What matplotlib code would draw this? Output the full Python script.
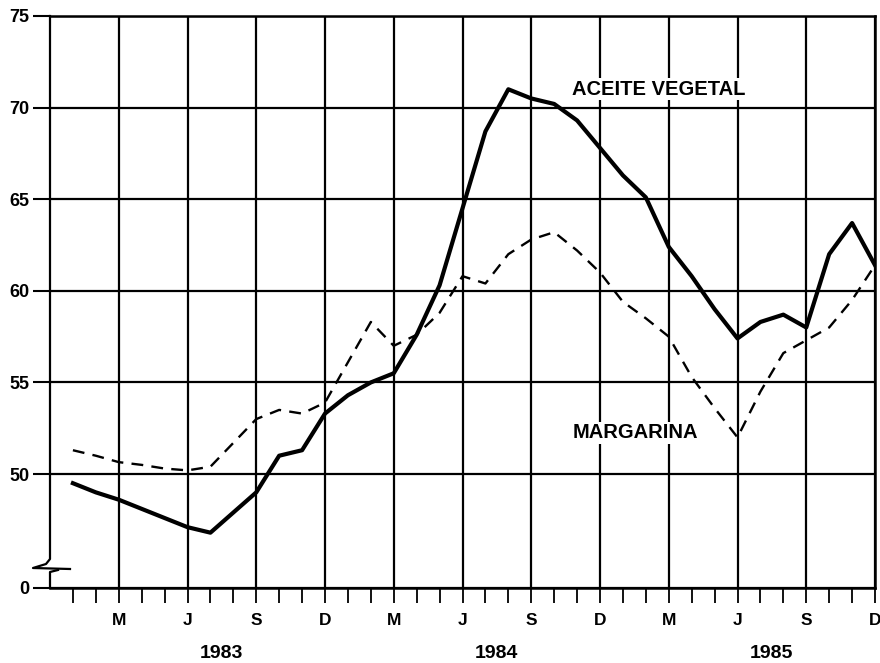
import matplotlib.pyplot as plt
import numpy as np

plt.rcParams['font.family'] = ['Liberation Sans', 'DejaVu Sans']
plt.rcParams['font.weight'] = 'bold'

# month index: 0 = Dec 1982 ... 36 = Dec 1985
months = np.arange(1, 37)

aceite_vegetal = [49.5, 49.0, 48.6, 48.1, 47.6, 47.1, 46.8, 47.9, 49.0, 51.0, 51.3, 53.3,
                  54.3, 55.0, 55.5, 57.6, 60.3, 64.5, 68.7, 71.0, 70.5, 70.2, 69.3, 67.8,
                  66.3, 65.1, 62.4, 60.8, 59.0, 57.4, 58.3, 58.7, 58.0, 62.0, 63.7, 61.4]
margarina = [51.3, 51.0, 50.65, 50.5, 50.3, 50.2, 50.4, 51.7, 53.0, 53.5, 53.3, 53.9,
             56.1, 58.3, 57.0, 57.6, 58.8, 60.8, 60.4, 62.0, 62.8, 63.2, 62.2, 61.0,
             59.4, 58.5, 57.5, 55.3, 53.6, 52.0, 54.5, 56.6, 57.3, 58.0, 59.5, 61.4]

month_ticks = list(range(3, 37, 3))
month_labels = ['M', 'J', 'S', 'D'] * 3
years = ['1983', '1984', '1985']
year_pos = [7.5, 19.5, 31.5]

y_base = 43.78  # broken axis: this level is labelled 0
y_ticks = [y_base, 50, 55, 60, 65, 70, 75]
y_labels = ['0', '50', '55', '60', '65', '70', '75']

fig = plt.figure(figsize=(8.8, 6.63), dpi=100)
ax = fig.add_axes([50 / 880, 75 / 663, 825 / 880, 572 / 663])
ax.set_xlim(0, 36)
ax.set_ylim(y_base, 75)

# grid
ax.set_xticks(month_ticks)
ax.set_xticklabels(month_labels, fontsize=12.5, fontweight='bold')
ax.set_xticks([m for m in range(1, 36) if m % 3], minor=True)
ax.set_yticks(y_ticks)
ax.set_yticklabels(y_labels, fontsize=13, fontweight='bold')
ax.grid(True, which='major', color='black', linewidth=1.6)
ax.tick_params(axis='x', which='both', direction='out', length=11, width=1.3, pad=7)
ax.tick_params(axis='y', direction='out', length=12, width=1.5, pad=3)

for side in ['top', 'right', 'bottom']:
    ax.spines[side].set_linewidth(1.8)
ax.spines['left'].set_visible(False)

# left axis with break near the bottom
def px(x, y):
    return ((x - 50) / 825, (588 - y) / 572)

seg = [px(50, 16), px(50, 559), px(46, 564), px(33, 568), px(70, 569)]
ax.plot([p[0] for p in seg], [p[1] for p in seg], color='black', lw=1.6,
        transform=ax.transAxes, clip_on=False)
seg2 = [px(58, 570), px(50, 572), px(50, 588)]
ax.plot([p[0] for p in seg2], [p[1] for p in seg2], color='black', lw=1.6,
        transform=ax.transAxes, clip_on=False)

# series
ax.plot(months, aceite_vegetal, color='black', lw=3.0, solid_joinstyle='round', zorder=3)
ax.plot(months, margarina, color='black', lw=1.7, linestyle=(0, (5, 3.5)), zorder=3)

ax.text(22.8, 71.0, 'ACEITE VEGETAL', fontsize=14.5, fontweight='bold',
        ha='left', va='center', bbox=dict(facecolor='white', edgecolor='none', pad=1))
ax.text(22.8, 52.25, 'MARGARINA', fontsize=14.5, fontweight='bold',
        ha='left', va='center', bbox=dict(facecolor='white', edgecolor='none', pad=1))

for yr, xp in zip(years, year_pos):
    ax.text(xp, -0.114, yr, transform=ax.get_xaxis_transform(), ha='center', va='center',
            fontsize=14, fontweight='bold')

fig.savefig('out.png', dpi=100)
